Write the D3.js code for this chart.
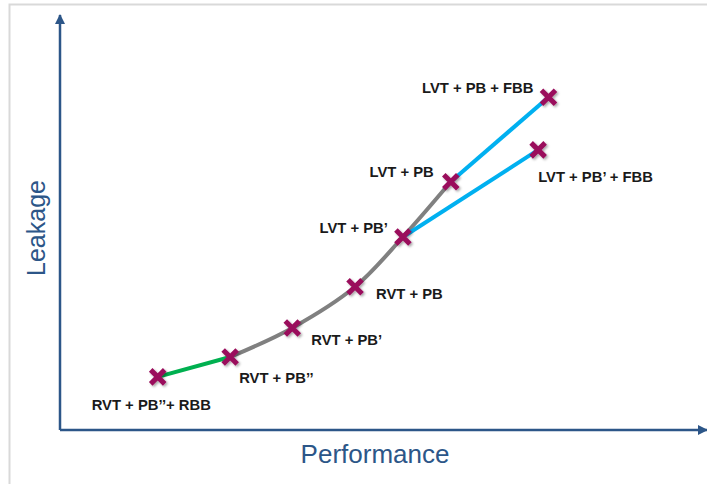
<!DOCTYPE html>
<html>
    <head>
        <meta charset="utf-8">
        <script src="https://cdn.jsdelivr.net/npm/d3@7"></script>
        <style>
            body { margin: 0; background: #fff; }
        </style>
        <script>
            // data: abstract performance (x) / leakage (y) units
            var names = ["RVT + PB’’+ RBB", "RVT + PB’’", "RVT + PB’", "RVT + PB",
                         "LVT + PB’", "LVT + PB", "LVT + PB + FBB", "LVT + PB’ + FBB"];
            var perf    = [15.1, 26.3, 35.9, 45.6, 53.0, 60.4, 75.5, 73.9];
            var leakage = [12.8, 17.6, 24.6, 34.5, 46.5, 59.8, 80.2, 67.5];

            // which points each line segment joins
            var segments = [
                { idx: [0, 1], color: "#00b050", curve: false },
                { idx: [1, 2, 3, 4, 5], color: "#808080", curve: true },
                { idx: [5, 6], color: "#00b0f0", curve: false },
                { idx: [4, 7], color: "#00b0f0", curve: false }
            ];

            // label placement relative to its point
            var labelPos = [
                { dx: -66, dy: 33, anchor: "start" },
                { dx: 9, dy: 26, anchor: "start" },
                { dx: 19, dy: 17, anchor: "start" },
                { dx: 21, dy: 12, anchor: "start" },
                { dx: -15, dy: -4, anchor: "end" },
                { dx: -17, dy: -5, anchor: "end" },
                { dx: -15, dy: -4, anchor: "end" },
                { dx: 0, dy: 32, anchor: "start" }
            ];

            function makeSVG() {
                var svg = d3.select("#fig");
                var axisColor = "#2c5688";

                var xSc = d3.scaleLinear().domain([0, 100]).range([60, 707]);
                var ySc = d3.scaleLinear().domain([0, 100]).range([430, 15]);

                var pts = names.map((n, i) => [ xSc(perf[i]), ySc(leakage[i]) ]);

                // frame
                svg.append("rect")
                   .attr("x", 9.5).attr("y", 4.5)
                   .attr("width", 720).attr("height", 500)
                   .attr("fill", "none")
                   .attr("stroke", "#d9d9d9")
                   .attr("stroke-width", 2);

                var defs = svg.append("defs");
                defs.append("marker")
                    .attr("id", "arr")
                    .attr("viewBox", "0 0 10 10")
                    .attr("refX", 9).attr("refY", 5)
                    .attr("markerWidth", 4).attr("markerHeight", 4)
                    .attr("markerUnits", "strokeWidth")
                    .attr("orient", "auto")
                    .append("path")
                    .attr("d", "M0,0 L10,5 L0,10 Z")
                    .attr("fill", axisColor);

                var sh = defs.append("filter").attr("id", "shadow")
                             .attr("x", "-50%").attr("y", "-50%")
                             .attr("width", "200%").attr("height", "200%");
                sh.append("feDropShadow")
                  .attr("dx", 1.5).attr("dy", 1.5)
                  .attr("stdDeviation", 1.2)
                  .attr("flood-color", "#000")
                  .attr("flood-opacity", 0.35);

                // axes
                svg.append("line")
                   .attr("x1", xSc(0)).attr("y1", ySc(0))
                   .attr("x2", xSc(0)).attr("y2", ySc(100))
                   .attr("stroke", axisColor).attr("stroke-width", 2.5)
                   .attr("marker-end", "url(#arr)");
                svg.append("line")
                   .attr("x1", xSc(0)).attr("y1", ySc(0))
                   .attr("x2", xSc(100)).attr("y2", ySc(0))
                   .attr("stroke", axisColor).attr("stroke-width", 2.5)
                   .attr("marker-end", "url(#arr)");

                svg.append("text")
                   .attr("transform", "translate(45,228) rotate(-90)")
                   .attr("text-anchor", "middle")
                   .attr("font-family", "Liberation Sans, Arial, sans-serif")
                   .attr("font-size", 25)
                   .attr("fill", axisColor)
                   .text("Leakage");
                svg.append("text")
                   .attr("x", 375).attr("y", 463)
                   .attr("text-anchor", "middle")
                   .attr("font-family", "Liberation Sans, Arial, sans-serif")
                   .attr("font-size", 26)
                   .attr("fill", axisColor)
                   .text("Performance");

                // lines
                var straight = d3.line();
                var smooth = d3.line().curve(d3.curveCatmullRom.alpha(0.5));
                segments.forEach(s => {
                    var p = s.idx.map(i => pts[i]);
                    svg.append("path")
                       .attr("d", (s.curve ? smooth : straight)(p))
                       .attr("fill", "none")
                       .attr("stroke", s.color)
                       .attr("stroke-width", 4);
                });

                // X markers
                var sz = 7;
                svg.selectAll("path.mk")
                   .data(pts)
                   .enter()
                   .append("path")
                   .attr("class", "mk")
                   .attr("d", d => "M" + (d[0] - sz) + "," + (d[1] - sz) + "L" + (d[0] + sz) + "," + (d[1] + sz) +
                                   "M" + (d[0] + sz) + "," + (d[1] - sz) + "L" + (d[0] - sz) + "," + (d[1] + sz))
                   .attr("stroke", "#9a0e5c")
                   .attr("stroke-width", 5)
                   .attr("stroke-linecap", "butt")
                   .attr("filter", "url(#shadow)");

                // labels
                svg.selectAll("text.lbl")
                   .data(names)
                   .enter()
                   .append("text")
                   .attr("class", "lbl")
                   .attr("x", (d, i) => pts[i][0] + labelPos[i].dx)
                   .attr("y", (d, i) => pts[i][1] + labelPos[i].dy)
                   .attr("text-anchor", (d, i) => labelPos[i].anchor)
                   .attr("font-family", "Liberation Sans, Arial, sans-serif")
                   .attr("font-weight", "bold")
                   .attr("font-size", 14.8)
                   .attr("fill", "#1a1a1a")
                   .text(d => d);
            }
        </script>
    </head>
    <body onload="makeSVG()">
        <svg id="fig" width="707" height="484"></svg>
    </body>
</html>
